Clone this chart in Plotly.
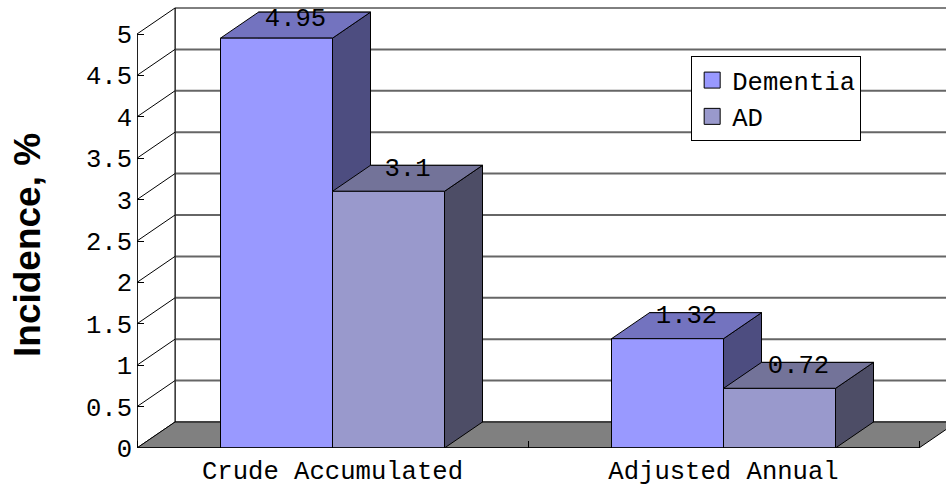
"""Incidence of dementia and AD, drawn as an Excel-style 3D column chart."""

import plotly.graph_objects as go

CATEGORIES = ["Crude Accumulated", "Adjusted Annual"]
SERIES_NAMES = ["Dementia", "AD"]
DEMENTIA = [4.95, 1.32]
AD = [3.1, 0.72]
Y_TICKS = [0, 0.5, 1, 1.5, 2, 2.5, 3, 3.5, 4, 4.5, 5]

FACE_COLORS = {
    "Dementia": {"front": "#9999FF", "top": "#7373BF", "side": "#4D4D80"},
    "AD": {"front": "#9999CC", "top": "#737399", "side": "#4D4D66"},
}
TEXT_FONT = dict(family="Liberation Mono", size=25.6, color="#000000")

# pixel scale of the plot: one category is 391px wide, one y unit 82.8px tall
PX_X = 391
PX_Y = 82.8
DX = 38 / PX_X
DY = 26 / PX_Y
BAR_W = 112 / PX_X
Y_TOP = max(Y_TICKS)
N_CAT = len(CATEGORIES)

fig = go.Figure()


def add_poly(xs, ys, fill, line="#000000", width=1):
    fig.add_trace(go.Scatter(
        x=xs + xs[:1], y=ys + ys[:1], mode="lines", fill="toself", fillcolor=fill,
        line=dict(color=line, width=width), showlegend=False, hoverinfo="skip",
        cliponaxis=False,
    ))


def add_segments(segments, color, width):
    xs, ys = [], []
    for x0, y0, x1, y1 in segments:
        xs += [x0, x1, None]
        ys += [y0, y1, None]
    fig.add_trace(go.Scatter(
        x=xs, y=ys, mode="lines", line=dict(color=color, width=width),
        showlegend=False, hoverinfo="skip", cliponaxis=False,
    ))


def add_column(x0, value, colors):
    x1 = x0 + BAR_W
    add_poly([x0 + DX, x1 + DX, x1 + DX, x0 + DX], [DY, DY, value + DY, value + DY], colors["side"])
    add_poly([x1, x1 + DX, x1 + DX, x1], [0, DY, value + DY, value], colors["side"])
    add_poly([x0, x1, x1 + DX, x0 + DX], [value, value, value + DY, value + DY], colors["top"])
    add_poly([x0, x1, x1, x0], [0, 0, value, value], colors["front"])


# walls and floor
add_poly([DX, N_CAT + DX, N_CAT + DX, DX], [DY, DY, Y_TOP + DY, Y_TOP + DY], "#FFFFFF")
add_segments([(DX, t + DY, N_CAT + DX, t + DY) for t in Y_TICKS[1:-1]], "#666666", 2)
add_poly([0, DX, DX, 0], [0, DY, Y_TOP + DY, Y_TOP], "#FFFFFF")
add_segments([(0, t, DX, t + DY) for t in Y_TICKS[1:-1]], "#000000", 1)
add_poly([0, N_CAT, N_CAT + DX, DX], [0, 0, DY, DY], "#808080")

# columns, left to right so that nearer faces cover the earlier ones
for i in range(N_CAT):
    add_column(i + 0.5 - BAR_W, DEMENTIA[i], FACE_COLORS["Dementia"])
    add_column(i + 0.5, AD[i], FACE_COLORS["AD"])

add_segments([(0, 0, 0, Y_TOP), (0, 0, N_CAT, 0)], "#000000", 1.5)

# value labels sit over the top face, held inside the chart area
label_x, label_y, label_text = [], [], []
for i in range(N_CAT):
    for offset, value in [(-BAR_W / 2, DEMENTIA[i]), (BAR_W / 2, AD[i])]:
        label_x.append(i + 0.5 + offset + DX / 2)
        label_y.append(min(value + 0.265, 5.18))
        label_text.append(f"{value:g}")
fig.add_trace(go.Scatter(
    x=label_x, y=label_y, text=label_text, mode="text", textposition="middle center",
    textfont=TEXT_FONT, showlegend=False, hoverinfo="skip", cliponaxis=False,
))

# legend swatches
for name in SERIES_NAMES:
    fig.add_trace(go.Scatter(
        x=[None], y=[None], mode="markers", name=name,
        marker=dict(symbol="square", size=16, color=FACE_COLORS[name]["front"],
                    line=dict(color="#000000", width=1)),
    ))

fig.add_annotation(
    text="Incidence, %", textangle=-90, showarrow=False,
    xref="paper", yref="paper", x=(28 - 137) / 809, y=(448 - 245) / 443,
    xanchor="center", yanchor="middle",
    font=dict(family="Liberation Sans", size=37, color="#000000", weight="bold"),
)

fig.update_layout(
    width=946,
    height=486,
    margin=dict(l=137, r=0, t=5, b=38),
    paper_bgcolor="#FFFFFF",
    plot_bgcolor="#FFFFFF",
    font=TEXT_FONT,
    showlegend=True,
    legend=dict(
        x=0.685, y=0.885, xanchor="left", yanchor="top",
        bgcolor="#FFFFFF", bordercolor="#000000", borderwidth=1,
        font=TEXT_FONT,
    ),
    xaxis=dict(
        range=[0, (946 - 137) / PX_X],
        tickvals=[i + 0.5 for i in range(N_CAT)],
        ticktext=CATEGORIES,
        ticks="",
        ticklabelstandoff=4,
        automargin=False,
        showgrid=False,
        zeroline=False,
        minor=dict(tickvals=list(range(N_CAT + 1)), ticks="inside", ticklen=7,
                   tickcolor="#000000", showgrid=False),
    ),
    yaxis=dict(
        range=[0, 443 / PX_Y],
        tickvals=Y_TICKS,
        ticktext=[f"{t:g}" for t in Y_TICKS],
        ticks="inside",
        ticklen=7,
        tickcolor="#000000",
        ticklabelstandoff=4,
        automargin=False,
        showgrid=False,
        zeroline=False,
    ),
)

# the default page keeps an 8px body margin, which would shift the whole chart
fig.write_html(
    "out.html",
    config={"displayModeBar": False},
    post_script="document.body.style.margin = '0';",
)
